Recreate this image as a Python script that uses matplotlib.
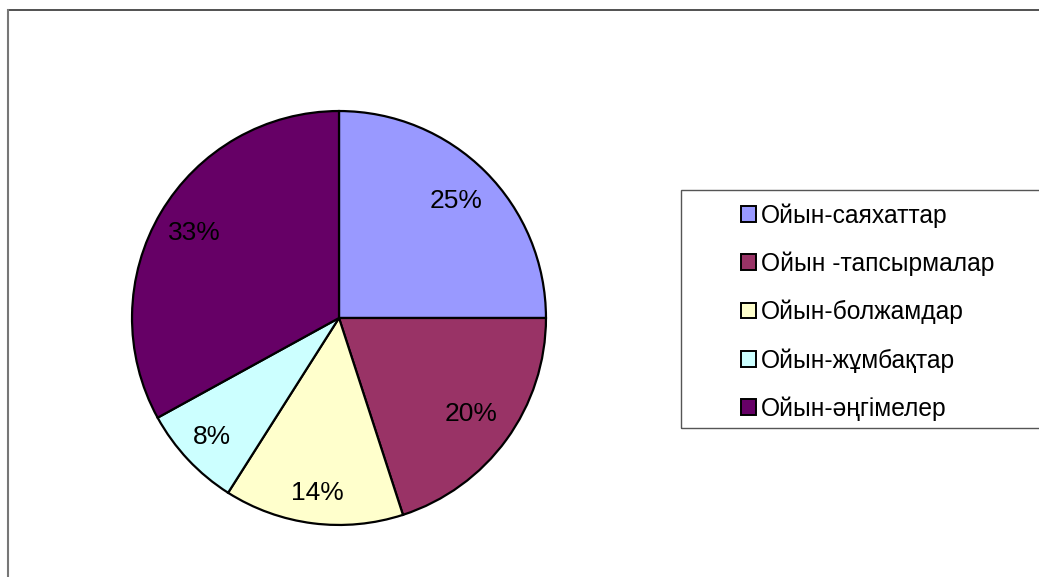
import matplotlib
matplotlib.use("Agg")
import numpy as np
import matplotlib.pyplot as plt
from matplotlib.patches import Patch, Rectangle
from matplotlib.lines import Line2D

plt.rcParams['font.family'] = ['Liberation Sans', 'DejaVu Sans']

categories = ['Ойын-саяхаттар', 'Ойын -тапсырмалар', 'Ойын-болжамдар',
              'Ойын-жұмбақтар', 'Ойын-әңгімелер']
values = [25, 20, 14, 8, 33]
colors = ['#9999FF', '#993366', '#FFFFCC', '#CCFFFF', '#660066']

W, H = 1039, 577
fig = plt.figure(figsize=(W / 100, H / 100), dpi=100)

# pie axes: centre (339, 318) px, radius ~207 px
cx, cy, r = 339, 318, 208
ax = fig.add_axes([(cx - r) / W, (H - cy - r) / H, 2 * r / W, 2 * r / H])
wedges, texts, autotexts = ax.pie(
    values, colors=colors, startangle=90, counterclock=False,
    autopct='%1.0f%%', pctdistance=0.8, radius=1,
    wedgeprops=dict(edgecolor='black', linewidth=1.6),
    textprops=dict(fontsize=19, color='black'))

# Excel-like label placement (slightly further out on the lower slices)
label_dist = [0.80, 0.79, 0.85, 0.84, 0.81]
for w, t, d in zip(wedges, autotexts, label_dist):
    ang = np.deg2rad((w.theta1 + w.theta2) / 2)
    t.set_position((d * np.cos(ang), d * np.sin(ang)))

ax.set_xlim(-1.005, 1.005)
ax.set_ylim(-1.005, 1.005)
ax.set_aspect('equal')
ax.axis('off')

# outer chart frame (top and left edges visible)
fig.add_artist(Line2D([8 / W, 1.0], [1 - 10 / H, 1 - 10 / H], color='#333333', lw=1.2))
fig.add_artist(Line2D([8 / W, 8 / W], [0, 1 - 10 / H], color='#777777', lw=1.5))

# legend box
fig.add_artist(Rectangle((681 / W, 1 - 428 / H), (W + 10 - 681) / W, 238 / H,
                         transform=fig.transFigure, fill=False,
                         edgecolor='#555555', lw=1.0))

handles = [Patch(facecolor=c, edgecolor='black', linewidth=1.4) for c in colors]
fig.legend(handles, categories, loc='center left',
           bbox_to_anchor=(741 / W, 1 - 312 / H), frameon=False,
           fontsize=17.7, handlelength=0.6, handleheight=0.6,
           handletextpad=0.2, labelspacing=0.97, borderpad=0, borderaxespad=0)

fig.savefig('out.png', dpi=100)
